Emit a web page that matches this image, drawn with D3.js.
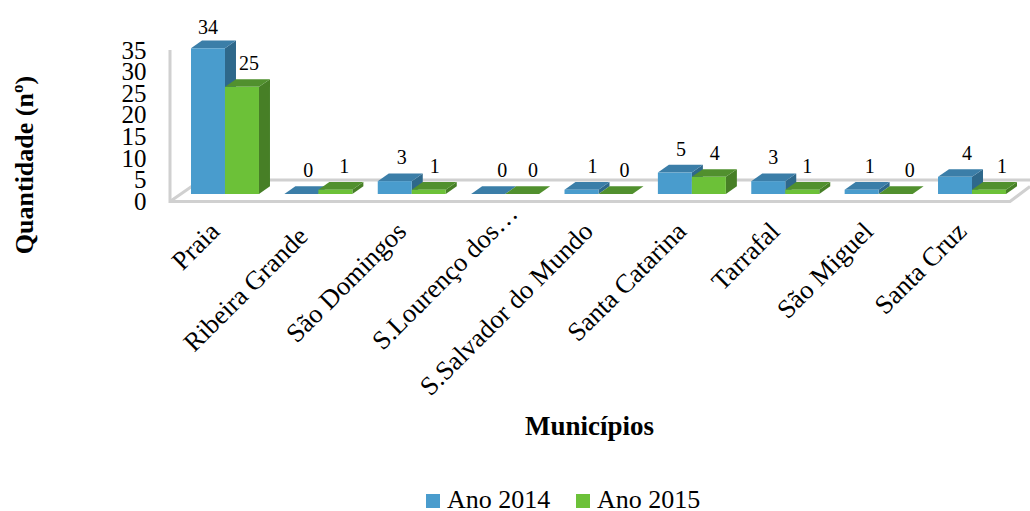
<!DOCTYPE html>
<html><head><meta charset="utf-8">
<script src="https://cdnjs.cloudflare.com/ajax/libs/d3/7.8.5/d3.min.js"></script>
<style>html,body{margin:0;padding:0;background:#fff}svg{display:block}text{font-family:"Liberation Serif","Times New Roman",serif;fill:#000}</style>
</head><body><svg id="c" width="1030" height="511"></svg>
<script>
const categories = ["Praia","Ribeira Grande","São Domingos","S.Lourenço dos…","S.Salvador do Mundo","Santa Catarina","Tarrafal","São Miguel","Santa Cruz"];
const ano2014 = [34,0,3,0,1,5,3,1,4];
const ano2015 = [25,1,1,0,0,4,1,0,1];
const seriesNames = ["Ano 2014","Ano 2015"];
const yTicks = [0,5,10,15,20,25,30,35];

const dx=11,dy=7.7;
const svg=d3.select("#c");
const defs=svg.append("defs");
defs.append("filter").attr("id","soft").attr("x","-5%").attr("y","-5%").attr("width","110%").attr("height","110%")
  .append("feGaussianBlur").attr("stdDeviation",0.45);

const x=d3.scaleBand().domain(categories).range([191,1006]).paddingInner(0.272).paddingOuter(0);
const xs=d3.scaleBand().domain(seriesNames).range([0,x.bandwidth()]);
const y=d3.scaleLinear().domain([0,35]).range([194,44]);
const yAxisScale=d3.scaleLinear().domain([0,35]).range([201,50]);
const colors={
  "Ano 2014":{front:"#4a9ccd",top:"#3b7ea8",side:"#2f678b"},
  "Ano 2015":{front:"#6cc139",top:"#51902e",side:"#467f27"}
};

// floor and walls
const g=svg.append("g").attr("filter","url(#soft)");
const floorLeft=170, floorRight=1010, floorFront=201.5, floorBack=180;
g.append("path").attr("fill","none").attr("stroke","#d0d0d0").attr("stroke-width",3)
  .attr("d",`M${floorLeft},50V${floorFront}H${floorRight}L1030,${floorFront-15}`);
g.append("path").attr("fill","none").attr("stroke","#d0d0d0").attr("stroke-width",3)
  .attr("d",`M${floorLeft},${floorFront}L201,${floorBack}H1030`);

// 3-D bars
const rows=categories.map((c,i)=>[{c,s:seriesNames[0],v:ano2014[i],i},{c,s:seriesNames[1],v:ano2015[i],i}]);
const groups=g.selectAll("g.cat").data(rows).join("g").attr("class","cat");
const bars=groups.selectAll("g.bar").data(d=>d).join("g").attr("class","bar");
const bx=d=>x(d.c)+xs(d.s), bw=xs.bandwidth(), base=y(0);
bars.append("path").attr("fill",d=>colors[d.s].side)
  .attr("d",d=>`M${bx(d)+bw},${y(d.v)}l${dx},${-dy}V${base-dy}l${-dx},${dy}Z`);
bars.append("path").attr("fill",d=>colors[d.s].top)
  .attr("d",d=>`M${bx(d)},${y(d.v)}l${dx},${-dy}h${bw}l${-dx},${dy}Z`);
bars.append("rect").attr("fill",d=>colors[d.s].front)
  .attr("x",bx).attr("y",d=>y(d.v)).attr("width",bw).attr("height",d=>base-y(d.v));

// value labels (hand-placed in the original, so each sits a little differently)
const labelShift2014=[0,7,7,14,11,6,5,8,12];
const labelShift2015=[7,9,6,11,9,6,5,14,13];
const flat=rows.flat();
svg.selectAll("text.val").data(flat).join("text").attr("class","val")
  .attr("text-anchor","middle").attr("font-size",20)
  .attr("x",d=>bx(d)+bw/2+(d.s===seriesNames[0]?labelShift2014:labelShift2015)[d.i])
  .attr("y",d=>y(d.v)-(d.v===34?21:24)+7)
  .text(d=>d.v);

// y axis
const yAxis=d3.axisLeft(yAxisScale).tickValues(yTicks).tickSize(0).tickPadding(0);
const ya=svg.append("g").attr("transform","translate(146.5,0)").call(yAxis);
ya.select(".domain").remove();
ya.selectAll("text").attr("font-size",25).attr("font-family",'"Liberation Serif",serif').attr("dy","0.33em");

// category labels
const slide=d=>d==="Ribeira Grande"?-5:d==="S.Lourenço dos…"?18:0;
svg.selectAll("text.cat").data(categories).join("text").attr("class","cat")
  .attr("text-anchor","end").attr("font-size",26.5)
  .attr("transform",d=>`translate(${x(d)+x.bandwidth()/2-4+slide(d)},${233-slide(d)}) rotate(-45)`)
  .text(d=>d);

// titles
svg.append("text").attr("x",589.5).attr("y",435).attr("text-anchor","middle")
  .attr("font-size",27).attr("font-weight","bold").text("Municípios");
svg.append("text").attr("transform","translate(32.5,165) rotate(-90)").attr("text-anchor","middle")
  .attr("font-size",26).attr("font-weight","bold").text("Quantidade (nº)");

// legend
const legX=d3.scaleOrdinal().domain(seriesNames).range([426,576]);
const leg=svg.selectAll("g.leg").data(seriesNames).join("g").attr("class","leg")
  .attr("transform",d=>`translate(${legX(d)},494)`);
leg.append("rect").attr("width",14).attr("height",14).attr("fill",d=>colors[d].front);
leg.append("text").attr("x",21).attr("y",14).attr("font-size",26).text(d=>d);
</script></body></html>
